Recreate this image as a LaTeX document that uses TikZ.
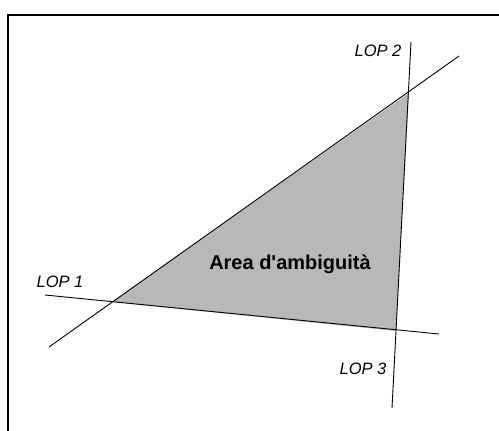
\documentclass[tikz,border=0pt]{standalone}
\usepackage{fontspec}
\setmainfont{Liberation Sans}[Ligatures=TeXOff]
\tikzset{lop/.style={font=\fontsize{16.5}{18}\selectfont\itshape, inner sep=0pt},
	area/.style={font=\fontsize{20}{22}\selectfont\bfseries, inner sep=0pt}}
\begin{document}
\begin{tikzpicture}[x=1pt,y=-1pt]
			\useasboundingbox (0,0) rectangle (499,431);
			\coordinate (a) at (112,302);
			\coordinate (b) at (409,93);
			\coordinate (c) at (396,331);
			\coordinate (l1s) at (45,295);
			\coordinate (l1e) at (439,334);
			\coordinate (l2s) at (49,347);
			\coordinate (l2e) at (459,56);
			\coordinate (l3s) at (411,42);
			\coordinate (l3e) at (392,408);
			\fill [black!28] (a) -- (b) -- (c) -- cycle;
			\draw [black, line width=2.5pt] (8,431) -- (8,15) -- (499,15);
			\draw [black, line width=0.9pt] (l1s) -- (l1e);
			\draw [black, line width=0.9pt] (l2s) -- (l2e);
			\draw [black, line width=0.9pt] (l3s) -- (l3e);
			\node [lop] (lop1) at (60,282) {LOP 1};
			\node [lop] (lop2) at (378,51) {LOP 2};
			\node [lop] (lop3) at (363,369) {LOP 3};
			\node [area] (amb) at (290,264) {Area d'ambiguità};
		\end{tikzpicture}
\end{document}
